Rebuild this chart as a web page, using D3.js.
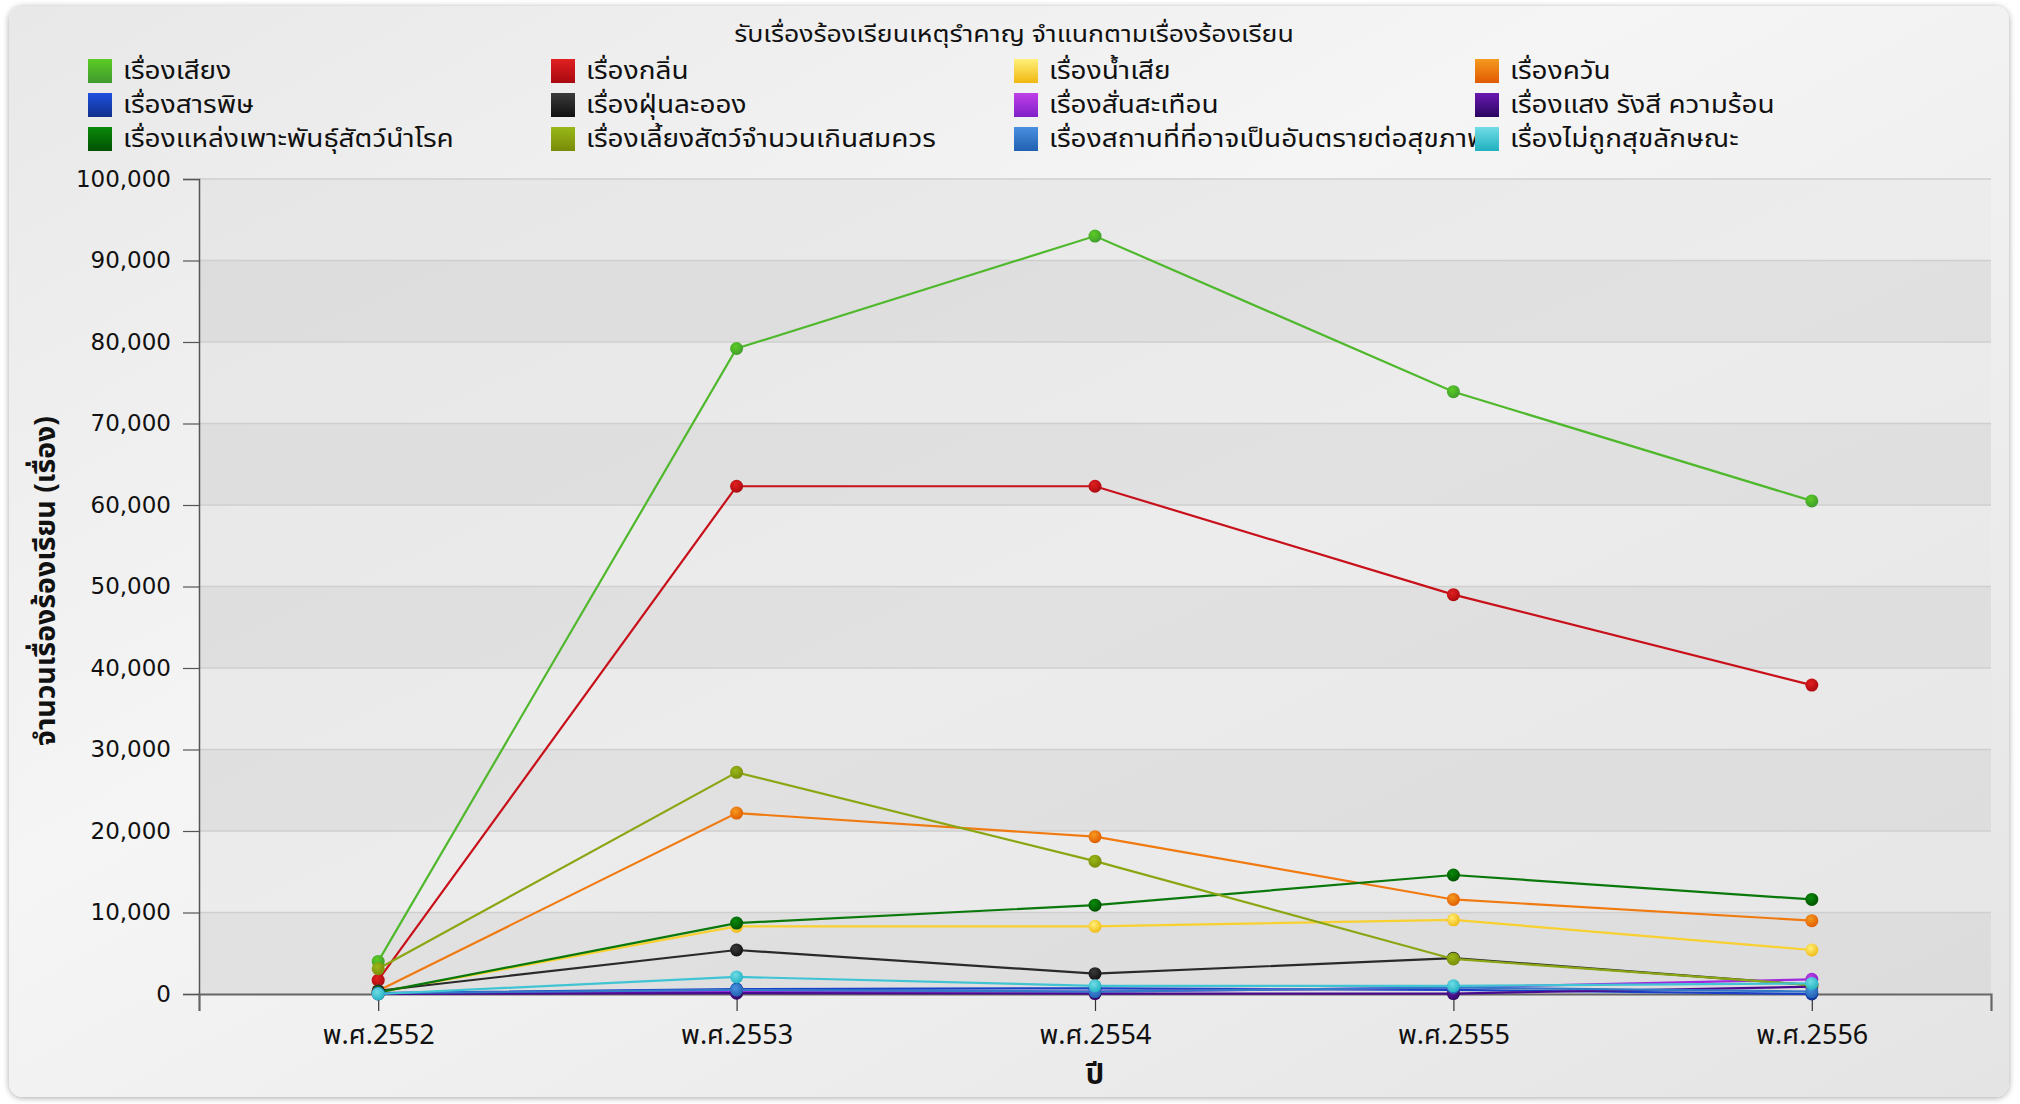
<!DOCTYPE html>
<html>
<head>
<meta charset="utf-8">
<script src="https://cdn.jsdelivr.net/npm/d3@7"></script>
<style>
  html, body { margin: 0; padding: 0; background: #ffffff; }
  svg { display: block; }
</style>
</head>
<body>
<svg id="chart" width="2020" height="1104"></svg>
<script>
// ---- data ----
const chartTitle = "รับเรื่องร้องเรียนเหตุรำคาญ จำแนกตามเรื่องร้องเรียน";
const yAxisTitle = "จำนวนเรื่องร้องเรียน (เรื่อง)";
const xAxisTitle = "ปี";
const years = ["พ.ศ.2552", "พ.ศ.2553", "พ.ศ.2554", "พ.ศ.2555", "พ.ศ.2556"];
const yTicks = [0, 10000, 20000, 30000, 40000, 50000, 60000, 70000, 80000, 90000, 100000];

const seriesNames = [
  "เรื่องเสียง", "เรื่องกลิ่น", "เรื่องน้ำเสีย", "เรื่องควัน",
  "เรื่องสารพิษ", "เรื่องฝุ่นละออง", "เรื่องสั่นสะเทือน", "เรื่องแสง รังสี ความร้อน",
  "เรื่องแหล่งเพาะพันธุ์สัตว์นำโรค", "เรื่องเลี้ยงสัตว์จำนวนเกินสมควร",
  "เรื่องสถานที่ที่อาจเป็นอันตรายต่อสุขภาพ", "เรื่องไม่ถูกสุขลักษณะ"
];
const noise      = [4000, 79200, 93000, 73900, 60500];
const odor       = [1700, 62300, 62300, 49000, 37900];
const wastewater = [200, 8300, 8300, 9100, 5400];
const smoke      = [400, 22200, 19300, 11600, 9000];
const toxic      = [100, 600, 700, 500, 0];
const dust       = [400, 5400, 2500, 4400, 1100];
const vibration  = [50, 300, 300, 800, 1800];
const lightHeat  = [0, 100, 50, 50, 900];
const vectors    = [200, 8700, 10900, 14600, 11600];
const livestock  = [3100, 27200, 16300, 4300, 1100];
const hazardous  = [100, 500, 300, 800, 300];
const unsanitary = [0, 2100, 1000, 1000, 1300];
const seriesValues = [noise, odor, wastewater, smoke, toxic, dust, vibration, lightHeat,
                      vectors, livestock, hazardous, unsanitary];
// colours: [line, light, dark]
const seriesColors = [
  ["#4fb82c", "#5ccc24", "#3f9a2e"],
  ["#c8101a", "#e02020", "#a80810"],
  ["#f8d030", "#fff07a", "#f0b810"],
  ["#f07a10", "#f59a20", "#e05a00"],
  ["#1a40c8", "#1e50e0", "#10308a"],
  ["#2a2a2a", "#3a3a3a", "#101010"],
  ["#a028e0", "#c040e8", "#8020c8"],
  ["#4a0a90", "#6a18b0", "#2a0660"],
  ["#0a780a", "#0a8a0a", "#005000"],
  ["#8aa612", "#98b818", "#7a8a08"],
  ["#3478c8", "#4a90e0", "#2060b0"],
  ["#40c4d4", "#70dce6", "#20b0c0"]
];

// ---- layout ----
const W = 2020, H = 1104;
const plot = { left: 199, right: 1991, top: 179, bottom: 994 };
const thaiFont = "'Noto Sans Thai', 'Tahoma', 'Garuda', 'Loma', 'Noto Sans', sans-serif";

const svg = d3.select("#chart");
const defs = svg.append("defs");

// panel background gradient
const bg = defs.append("linearGradient").attr("id", "bgGrad")
  .attr("x1", "0").attr("y1", "0").attr("x2", "1").attr("y2", "1");
bg.append("stop").attr("offset", "0%").attr("stop-color", "#e8e8e8");
bg.append("stop").attr("offset", "40%").attr("stop-color", "#f5f5f5");
bg.append("stop").attr("offset", "100%").attr("stop-color", "#e4e4e4");

const shadow = defs.append("filter").attr("id", "shadow")
  .attr("x", "-2%").attr("y", "-2%").attr("width", "104%").attr("height", "104%");
shadow.append("feGaussianBlur").attr("in", "SourceAlpha").attr("stdDeviation", 3);
shadow.append("feOffset").attr("dx", 0).attr("dy", 1).attr("result", "ob");
shadow.append("feComponentTransfer").append("feFuncA").attr("type", "linear").attr("slope", 0.35);
const fm = shadow.append("feMerge");
fm.append("feMergeNode");
fm.append("feMergeNode").attr("in", "SourceGraphic");

svg.append("rect").attr("x", 9).attr("y", 6).attr("width", 2000).attr("height", 1091)
  .attr("rx", 14).attr("ry", 14)
  .attr("fill", "url(#bgGrad)").attr("filter", "url(#shadow)");

// per-series gradients for swatches and markers
seriesColors.forEach((c, i) => {
  const g = defs.append("linearGradient").attr("id", "sw" + i)
    .attr("x1", "0").attr("y1", "0").attr("x2", "0").attr("y2", "1");
  g.append("stop").attr("offset", "0%").attr("stop-color", c[1]);
  g.append("stop").attr("offset", "100%").attr("stop-color", c[2]);
  const r = defs.append("radialGradient").attr("id", "mk" + i)
    .attr("cx", "40%").attr("cy", "35%").attr("r", "70%");
  r.append("stop").attr("offset", "0%").attr("stop-color", c[1]);
  r.append("stop").attr("offset", "100%").attr("stop-color", c[2]);
});

// scales
const x = d3.scalePoint().domain(years).range([plot.left, plot.right]).padding(0.5);
const y = d3.scaleLinear().domain([0, 100000]).range([plot.bottom, plot.top]);

// plot background bands
const plotG = svg.append("g");
const pbg = defs.append("linearGradient").attr("id", "plotGrad")
  .attr("x1", "0").attr("y1", "0").attr("x2", "1").attr("y2", "1");
pbg.append("stop").attr("offset", "0%").attr("stop-color", "#e6e6e6");
pbg.append("stop").attr("offset", "50%").attr("stop-color", "#ececec");
pbg.append("stop").attr("offset", "100%").attr("stop-color", "#e6e6e6");
plotG.append("rect").attr("x", plot.left).attr("y", plot.top)
  .attr("width", plot.right - plot.left).attr("height", plot.bottom - plot.top)
  .attr("fill", "url(#plotGrad)");
const bandStarts = yTicks.slice(0, -1).filter((d, i) => i % 2 === 0);
plotG.selectAll("rect.band").data(bandStarts).join("rect").attr("class", "band")
  .attr("x", plot.left).attr("width", plot.right - plot.left)
  .attr("y", d => y(d + 10000)).attr("height", d => y(d) - y(d + 10000))
  .attr("fill", "#000").attr("fill-opacity", 0.045);
plotG.selectAll("line.grid").data(yTicks.slice(1)).join("line").attr("class", "grid")
  .attr("x1", plot.left).attr("x2", plot.right)
  .attr("y1", d => y(d)).attr("y2", d => y(d))
  .attr("stroke", "#cfcfcf").attr("stroke-width", 1.5);

// axes
const yAxis = svg.append("g").attr("transform", `translate(${plot.left},0)`)
  .call(d3.axisLeft(y).tickValues(yTicks).tickSize(16).tickPadding(12)
    .tickFormat(d3.format(",")));
yAxis.select(".domain").attr("stroke", "#555").attr("stroke-width", 1.5);
yAxis.selectAll(".tick line").attr("stroke", "#555").attr("stroke-width", 1.2);
yAxis.selectAll(".tick text").attr("font-family", "'DejaVu Sans', Verdana, sans-serif")
  .attr("font-size", 23).attr("fill", "#111");

const xAxis = svg.append("g").attr("transform", `translate(0,${plot.bottom})`)
  .call(d3.axisBottom(x).tickSize(17).tickPadding(14));
xAxis.select(".domain").attr("stroke", "#666").attr("stroke-width", 2.2);
xAxis.selectAll(".tick line").attr("stroke", "#333").attr("stroke-width", 1.2);
xAxis.selectAll(".tick text").attr("font-family", thaiFont)
  .attr("font-size", 27).attr("fill", "#111");

// series
const line = d3.line().x((d, i) => x(years[i])).y(d => y(d));
const seriesG = svg.append("g");
seriesValues.forEach((vals, i) => {
  const g = seriesG.append("g");
  g.append("path").datum(vals).attr("d", line)
    .attr("fill", "none").attr("stroke", seriesColors[i][0]).attr("stroke-width", 2.2);
  g.selectAll("circle").data(vals).join("circle")
    .attr("cx", (d, j) => x(years[j])).attr("cy", d => y(d)).attr("r", 6.5)
    .attr("fill", `url(#mk${i})`);
});

// titles
svg.append("text").attr("transform", "translate(1014,42) scale(1.16,1)").attr("text-anchor", "middle")
  .attr("font-family", thaiFont).attr("font-size", 23).attr("fill", "#111").text(chartTitle);
svg.append("text").attr("transform", "translate(55,581) rotate(-90)")
  .attr("text-anchor", "middle").attr("font-family", thaiFont).attr("font-weight", "bold")
  .attr("font-size", 28.5).attr("fill", "#111").text(yAxisTitle);
svg.append("text").attr("x", 1095).attr("y", 1084).attr("text-anchor", "middle")
  .attr("font-family", thaiFont).attr("font-weight", "bold")
  .attr("font-size", 29).attr("fill", "#111").text(xAxisTitle);

// legend
const legCols = [88, 551, 1014, 1475];
const legRows = [71, 105, 139];
const legG = svg.append("g");
seriesNames.forEach((name, i) => {
  const cx = legCols[i % 4], cy = legRows[Math.floor(i / 4)];
  const clipId = "legclip" + i;
  defs.append("clipPath").attr("id", clipId).append("rect")
    .attr("x", cx).attr("y", cy - 22).attr("width", (i % 4 === 3 ? 500 : legCols[1] - legCols[0])).attr("height", 44);
  const item = legG.append("g").attr("clip-path", `url(#${clipId})`);
  item.append("rect").attr("x", cx).attr("y", cy - 12).attr("width", 24).attr("height", 24)
    .attr("fill", `url(#sw${i})`);
  item.append("text").attr("transform", `translate(${cx + 35},${cy + 8}) scale(1.165,1)`)
    .attr("font-family", thaiFont).attr("font-size", 24).attr("fill", "#111").text(name);
});
</script>
</body>
</html>
